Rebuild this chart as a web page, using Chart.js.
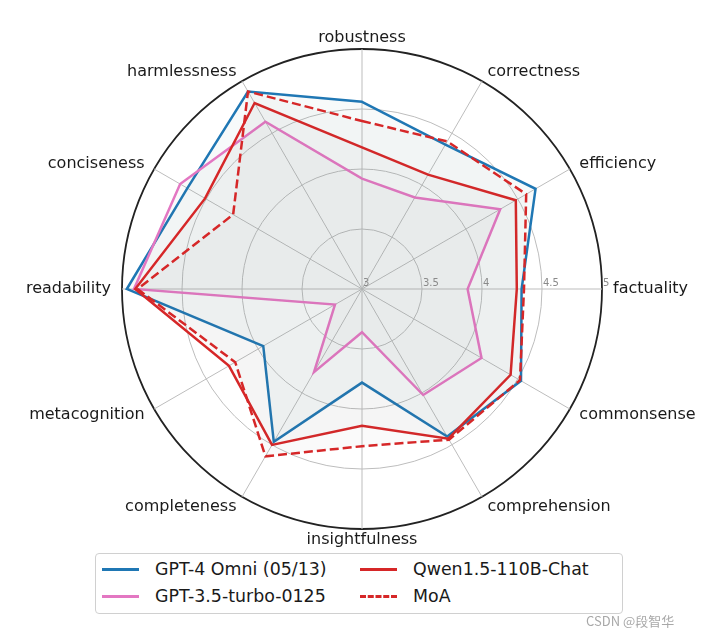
<!DOCTYPE html>
<html>
<head>
<meta charset="utf-8">
<script src="https://cdn.jsdelivr.net/npm/chart.js@4/dist/chart.umd.min.js"></script>
<style>
  body { margin: 0; background: #fff; font-family: "DejaVu Sans", sans-serif; }
  #wrap { position: relative; width: 727px; height: 638px; }
  #radar { position: absolute; left: 0; top: 0; }
  #legend {
    position: absolute; left: 95px; top: 553px; width: 526px; height: 59px;
    border: 1px solid #d0d0d0; border-radius: 4px; background: #fff;
  }
  .item { position: absolute; height: 24px; font-size: 17.4px; color: #1a1a1a; white-space: nowrap; }
  .item span.swatch { position: absolute; left: 0; top: 10px; width: 37px; height: 0; border-top: 3px solid; }
  .item span.txt { position: absolute; left: 53px; top: 1px; }
  #mark { position: absolute; left: 586px; top: 611px; font: 13px "Noto Sans CJK SC", sans-serif; color: #a8a8a8; }
</style>
</head>
<body>
<div id="wrap">
  <canvas id="radar" width="727" height="638"></canvas>
  <div id="legend"></div>
  <div id="mark">CSDN @段智华</div>
</div>
<script>
'use strict';

const categories = ['robustness', 'correctness', 'efficiency', 'factuality', 'commonsense', 'comprehension',
  'insightfulness', 'completeness', 'metacognition', 'readability', 'conciseness', 'harmlessness'];

const gpt4o   = [4.56, 4.39, 4.67, 4.33, 4.53, 4.42, 3.78, 4.47, 3.95, 4.96, 4.68, 4.90];
const gpt35   = [3.92, 3.88, 4.33, 3.88, 4.15, 4.02, 3.36, 3.80, 3.26, 4.90, 4.75, 4.61];
const qwen    = [4.18, 4.10, 4.48, 4.29, 4.43, 4.44, 4.14, 4.50, 4.28, 4.89, 4.51, 4.79];
const moa     = [4.40, 4.42, 4.58, 4.35, 4.52, 4.45, 4.31, 4.61, 4.22, 4.87, 4.24, 4.90];

const tickLabels = ['3', '3.5', '4', '4.5', '5'];

const BLUE = '#1f77b4';
const PINK = '#e377c2';
const RED = '#d62728';

// point labels: aligned by side, like matplotlib theta labels
const pointLabelPlugin = {
  id: 'pointLabelPlugin',
  afterDraw(chart) {
    const scale = chart.scales.r;
    const ctx = chart.ctx;
    ctx.save();
    ctx.font = '16px "DejaVu Sans"';
    ctx.fillStyle = '#1a1a1a';
    ctx.textBaseline = 'middle';
    categories.forEach((label, i) => {
      const p = scale.getPointPosition(i, scale.drawingArea + 11);
      const dx = p.x - scale.xCenter;
      ctx.textAlign = Math.abs(dx) < 1 ? 'center' : (dx > 0 ? 'left' : 'right');
      ctx.fillText(label, p.x, p.y);
    });
    ctx.restore();
  }
};

// radial tick labels sit on the right-hand axis
const tickPlugin = {
  id: 'tickPlugin',
  afterDatasetsDraw(chart) {
    const scale = chart.scales.r;
    const ctx = chart.ctx;
    ctx.save();
    ctx.font = '10px "DejaVu Sans"';
    ctx.fillStyle = '#8a8a8a';
    ctx.textAlign = 'left';
    ctx.textBaseline = 'alphabetic';
    tickLabels.forEach(t => {
      const d = scale.getDistanceFromCenterForValue(parseFloat(t));
      ctx.fillText(t, scale.xCenter + d + 1, scale.yCenter - 3);
    });
    ctx.restore();
  }
};

function makeLegend(items) {
  const box = document.getElementById('legend');
  box.innerHTML = items.map(it => {
    const style = it.dash
      ? `border-top: 3px dashed ${it.color};`
      : `border-color: ${it.color};`;
    return `<div class="item" style="left:${it.x}px; top:${it.y}px">
        <span class="swatch" style="${style}"></span><span class="txt">${it.label}</span>
      </div>`;
  }).join('');
}

function renderChart() {
  const ctx = document.getElementById('radar');

  new Chart(ctx, {
    type: 'radar',
    data: {
      labels: categories,
      datasets: [
        {
          label: 'MoA', data: moa, order: 1,
          borderColor: RED, borderWidth: 2.5, borderDash: [9, 4],
          backgroundColor: 'rgba(110, 110, 110, 0.03)', fill: true
        },
        {
          label: 'Qwen1.5-110B-Chat', data: qwen, order: 2,
          borderColor: RED, borderWidth: 2.5,
          backgroundColor: 'rgba(110, 110, 110, 0.035)', fill: true
        },
        {
          label: 'GPT-3.5-turbo-0125', data: gpt35, order: 3,
          borderColor: PINK, borderWidth: 2.5,
          backgroundColor: 'rgba(110, 110, 110, 0.035)', fill: true
        },
        {
          label: 'GPT-4 Omni (05/13)', data: gpt4o, order: 4,
          borderColor: BLUE, borderWidth: 2.5,
          backgroundColor: 'rgba(120, 175, 175, 0.06)', fill: true
        }
      ]
    },
    options: {
      responsive: false,
      devicePixelRatio: 1,
      animation: false,
      layout: { padding: { left: 122, top: 49, right: 125, bottom: 109 } },
      elements: {
        point: { radius: 0, hoverRadius: 0 },
        line: { tension: 0, borderJoinStyle: 'miter' }
      },
      scales: {
        r: {
          min: 3,
          max: 5,
          ticks: { stepSize: 0.5, display: false },
          pointLabels: { display: false },
          angleLines: { color: '#bdbdbd', lineWidth: 1 },
          grid: {
            circular: true,
            color: c => (c.tick && c.tick.value === 5 ? '#222' : '#bdbdbd'),
            lineWidth: c => (c.tick && c.tick.value === 5 ? 1.8 : 1)
          }
        }
      },
      plugins: {
        legend: { display: false },
        tooltip: { enabled: false }
      }
    },
    plugins: [tickPlugin, pointLabelPlugin]
  });

  makeLegend([
    { label: 'GPT-4 Omni (05/13)', color: BLUE, x: 6, y: 4 },
    { label: 'Qwen1.5-110B-Chat', color: RED, x: 264, y: 4 },
    { label: 'GPT-3.5-turbo-0125', color: PINK, x: 6, y: 31 },
    { label: 'MoA', color: RED, dash: true, x: 264, y: 31 }
  ]);
}

document.addEventListener('DOMContentLoaded', renderChart);
</script>
</body>
</html>
